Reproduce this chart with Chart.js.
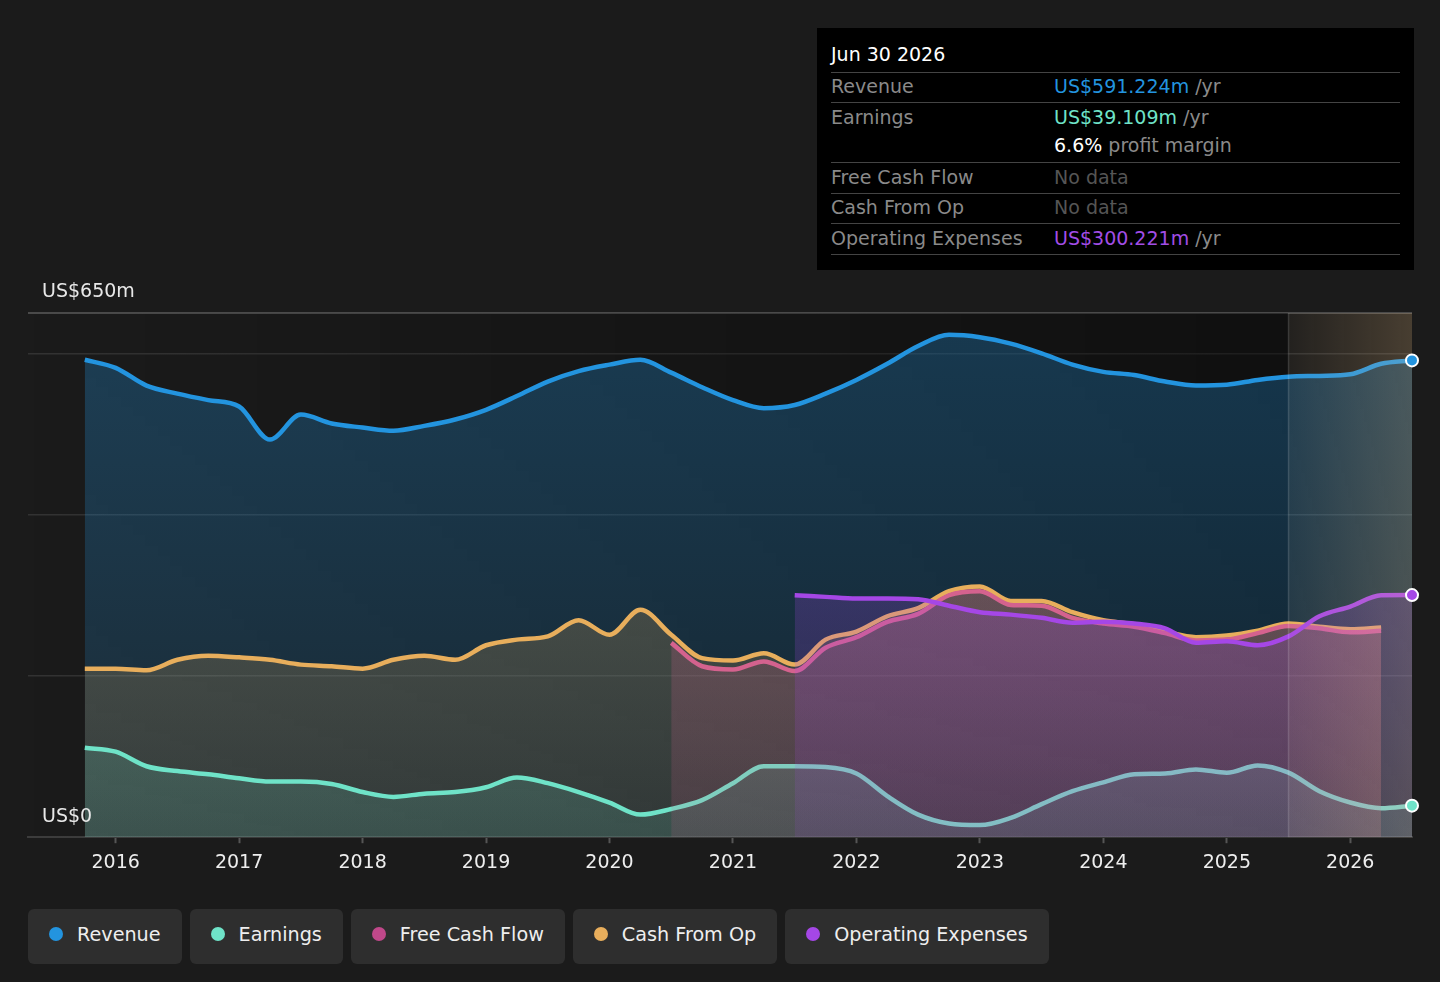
<!DOCTYPE html>
<html>
<head>
<meta charset="utf-8">
<script src="https://cdn.jsdelivr.net/npm/chart.js@4.4.1/dist/chart.umd.min.js"></script>
<style>
  html, body { margin: 0; padding: 0; background: #1b1b1b; width: 1440px; height: 982px; overflow: hidden; font-family: 'DejaVu Sans', sans-serif; }
  #wrap { position: absolute; left: 0; top: 0; width: 1440px; height: 890px; }
  .tip { position: absolute; left: 817px; top: 28px; width: 597px; height: 242px; background: #000; }
  .tip .title { position: absolute; left: 14px; top: 15px; color: #fff; font-size: 19px; }
  .tip .row { position: absolute; left: 14px; width: 569px; border-top: 1px solid #444; font-size: 19px; color: #8a8a8a; }
  .tip .row span.v { position: absolute; left: 223px; }
  .tip .end { position: absolute; left: 14px; width: 569px; top: 226px; border-top: 1px solid #444; }
  .legend { position: absolute; top: 909px; left: 28px; display: flex; gap: 8px; }
  .legend .item { background: #2e2e2e; border-radius: 6px; height: 55px; box-sizing: border-box; padding: 0 21px 5px 21px; display: flex; align-items: center; color: #eee; font-size: 19.2px; }
  .legend .dot { width: 14px; height: 14px; border-radius: 50%; margin-right: 14px; }
</style>
</head>
<body>
<div id="wrap"><canvas id="chart"></canvas></div>

<div class="tip">
  <div class="title">Jun 30 2026</div>
  <div class="row" style="top:44px;height:30px;line-height:27px;">Revenue<span class="v"><span style="color:#2394df">US$591.224m</span> /yr</span></div>
  <div class="row" style="top:74px;height:60px;line-height:28px;">Earnings<span class="v"><span style="color:#6fe3c8">US$39.109m</span> /yr<br><span style="color:#fff">6.6%</span> profit margin</span></div>
  <div class="row" style="top:134px;height:31px;line-height:28px;">Free Cash Flow<span class="v" style="color:#555">No data</span></div>
  <div class="row" style="top:165px;height:30px;line-height:27px;">Cash From Op<span class="v" style="color:#555">No data</span></div>
  <div class="row" style="top:195px;height:31px;line-height:28px;">Operating Expenses<span class="v"><span style="color:#a24de6">US$300.221m</span> /yr</span></div>
  <div class="end"></div>
</div>

<div class="legend">
  <div class="item"><span class="dot" style="background:#2394df"></span>Revenue</div>
  <div class="item"><span class="dot" style="background:#6fe3c8"></span>Earnings</div>
  <div class="item"><span class="dot" style="background:#c0488a"></span>Free Cash Flow</div>
  <div class="item"><span class="dot" style="background:#e8ae5c"></span>Cash From Op</div>
  <div class="item"><span class="dot" style="background:#a547e6"></span>Operating Expenses</div>
</div>

<script>
// quarter ends as fractional years (Sep 2015 .. Jun 2026)
const periods = [
  2015.75, 2016.0, 2016.25, 2016.5, 2016.75, 2017.0, 2017.25, 2017.5, 2017.75,
  2018.0, 2018.25, 2018.5, 2018.75, 2019.0, 2019.25, 2019.5, 2019.75,
  2020.0, 2020.25, 2020.5, 2020.75, 2021.0, 2021.25, 2021.5, 2021.75,
  2022.0, 2022.25, 2022.5, 2022.75, 2023.0, 2023.25, 2023.5, 2023.75,
  2024.0, 2024.25, 2024.5, 2024.75, 2025.0, 2025.25, 2025.5, 2025.75,
  2026.0, 2026.25, 2026.5
];

// US$ millions, per period above (null = no data)
const revenue = [
  592, 582, 560, 550, 542, 534, 493, 524, 513,
  508, 504, 510, 518, 530, 547, 565, 578,
  586, 592, 576, 558, 542, 532, 536, 550,
  567, 587, 609, 623, 620, 612, 600, 586,
  577, 573, 565, 560, 561, 567, 571, 572,
  574, 587, 591.224
];
const earnings = [
  111, 106, 88, 82, 78, 73, 69, 69, 66,
  56, 50, 54, 56, 62, 74, 67, 56,
  43, 28, 35, 46, 67, 88, 88, 87,
  79, 51, 28, 17, 15, 24, 41, 57,
  68, 78, 79, 84, 80, 89, 80, 57,
  43, 36, 39.109
];
const cashFromOp = [
  209, 209, 207, 220, 225, 223, 220, 214, 212,
  209, 220, 225, 220, 238, 245, 249, 269,
  251, 282, 251, 222, 219, 228, 214, 245,
  255, 274, 284, 305, 311, 293, 293, 279,
  269, 264, 255, 248, 250, 256, 265, 261,
  258, 260, null
];
const freeCashFlow = [
  null, null, null, null, null, null, null, null, null,
  null, null, null, null, null, null, null, null,
  null, null, 241, 212, 208, 218, 206, 235,
  248, 267, 277, 300, 305, 288, 287, 272,
  265, 261, 253, 244, 245, 253, 262, 259,
  254, 256, null
];
const opExpenses = [
  null, null, null, null, null, null, null, null, null,
  null, null, null, null, null, null, null, null,
  null, null, null, null, null, null, 300, 298,
  296, 296, 295, 287, 279, 276, 272, 266,
  267, 265, 259, 241, 243, 238, 249, 274,
  286, 300, 300.221
];

const yearTicks = [2016, 2017, 2018, 2019, 2020, 2021, 2022, 2023, 2024, 2025, 2026];
const gridValues = [0, 200, 400, 600, 650];
const forecastStart = 2025.5;

function pts(arr) {
  return periods.map((p, i) => ({ x: p, y: arr[i] }));
}

function areaFill(rgb, top, bottom) {
  return function(context) {
    const area = context.chart.chartArea;
    if (!area) return 'rgba(' + rgb + ',' + bottom + ')';
    const g = context.chart.ctx.createLinearGradient(0, area.top, 0, area.bottom);
    g.addColorStop(0, 'rgba(' + rgb + ',' + top + ')');
    g.addColorStop(1, 'rgba(' + rgb + ',' + bottom + ')');
    return g;
  };
}

function series(label, arr, color, rgb, order, a1, a2) {
  return {
    label: label,
    data: pts(arr),
    borderColor: color,
    backgroundColor: areaFill(rgb, a1, a2),
    borderWidth: 4.5,
    fill: 'origin',
    pointRadius: 0,
    cubicInterpolationMode: 'monotone',
    spanGaps: false,
    order: order
  };
}

// background shading, forecast overlay, end dots and axis labels
const decor = {
  id: 'decor',
  beforeDatasetsDraw(chart) {
    const { ctx, chartArea, scales } = chart;
    const fx = scales.x.getPixelForValue(forecastStart);
    const g = ctx.createLinearGradient(chartArea.left, 0, fx, 0);
    g.addColorStop(0, 'rgba(0,0,0,0)');
    g.addColorStop(1, 'rgba(0,0,0,0.4)');
    ctx.save();
    ctx.fillStyle = g;
    ctx.fillRect(chartArea.left, chartArea.top, fx - chartArea.left, chartArea.bottom - chartArea.top);
    ctx.restore();
  },
  afterDatasetsDraw(chart) {
    const { ctx, chartArea, scales } = chart;
    const fx = scales.x.getPixelForValue(forecastStart);
    ctx.save();
    const g = ctx.createLinearGradient(fx, 0, chartArea.right, 0);
    g.addColorStop(0, 'rgba(255,205,140,0.04)');
    g.addColorStop(1, 'rgba(255,205,140,0.2)');
    ctx.fillStyle = g;
    ctx.fillRect(fx, chartArea.top, chartArea.right - fx, chartArea.bottom - chartArea.top);
    ctx.strokeStyle = 'rgba(255,255,255,0.15)';
    ctx.lineWidth = 1.5;
    ctx.beginPath();
    ctx.moveTo(fx, chartArea.top);
    ctx.lineTo(fx, chartArea.bottom);
    ctx.stroke();

    // end markers
    chart.data.datasets.forEach((ds, i) => {
      const meta = chart.getDatasetMeta(i);
      const last = ds.data[ds.data.length - 1];
      if (last.y === null) return;
      const el = meta.data[meta.data.length - 1];
      ctx.beginPath();
      ctx.arc(el.x, el.y, 6, 0, Math.PI * 2);
      ctx.fillStyle = ds.borderColor;
      ctx.fill();
      ctx.lineWidth = 2;
      ctx.strokeStyle = '#fff';
      ctx.stroke();
    });

    // y labels
    ctx.font = '19px "DejaVu Sans"';
    ctx.fillStyle = '#e8e8e8';
    ctx.textBaseline = 'middle';
    ctx.textAlign = 'left';
    ctx.fillText('US$650m', chartArea.left + 14, scales.y.getPixelForValue(650) - 21);
    ctx.fillText('US$0', chartArea.left + 14, scales.y.getPixelForValue(0) - 20);
    ctx.restore();
  }
};

Chart.defaults.font.family = "'DejaVu Sans', sans-serif";
Chart.defaults.color = '#e8e8e8';

new Chart(document.getElementById('chart'), {
  type: 'line',
  data: {
    datasets: [
      series('Revenue', revenue, '#2394df', '35,148,223', 5, 0.3, 0.14),
      series('Cash From Op', cashFromOp, '#e8ae5c', '232,174,92', 4, 0.32, 0.12),
      series('Earnings', earnings, '#6fe3c8', '111,227,200', 3, 0.32, 0.14),
      series('Free Cash Flow', freeCashFlow, '#d4628e', '212,98,142', 2, 0.34, 0.14),
      series('Operating Expenses', opExpenses, '#a547e6', '165,71,230', 1, 0.34, 0.12)
    ]
  },
  options: {
    responsive: true,
    maintainAspectRatio: false,
    animation: false,
    layout: { padding: { left: 28, right: 28, top: 313, bottom: 8 } },
    plugins: {
      legend: { display: false },
      tooltip: { enabled: false },
      filler: { propagate: false }
    },
    scales: {
      x: {
        type: 'linear',
        min: 2015.29,
        max: 2026.5,
        afterBuildTicks: (axis) => { axis.ticks = yearTicks.map(v => ({ value: v })); },
        grid: { drawOnChartArea: false, tickLength: 6, tickColor: '#555', tickWidth: 2 },
        border: { color: '#3c3c3c', width: 2 },
        ticks: {
          padding: 8,
          color: '#eeeeee',
          font: { size: 19 },
          maxRotation: 0,
          callback: (v) => String(v)
        }
      },
      y: {
        min: 0,
        max: 650,
        afterBuildTicks: (axis) => { axis.ticks = gridValues.map(v => ({ value: v })); },
        grid: {
          drawTicks: false,
          color: (c) => c.tick && c.tick.value === 650 ? '#4a4a4a' : (c.tick && c.tick.value === 0 ? 'rgba(0,0,0,0)' : 'rgba(255,255,255,0.1)'),
          lineWidth: (c) => c.tick && c.tick.value === 650 ? 2 : 1.5
        },
        border: { display: false },
        ticks: { display: false }
      }
    }
  },
  plugins: [decor]
});
</script>
</body>
</html>
